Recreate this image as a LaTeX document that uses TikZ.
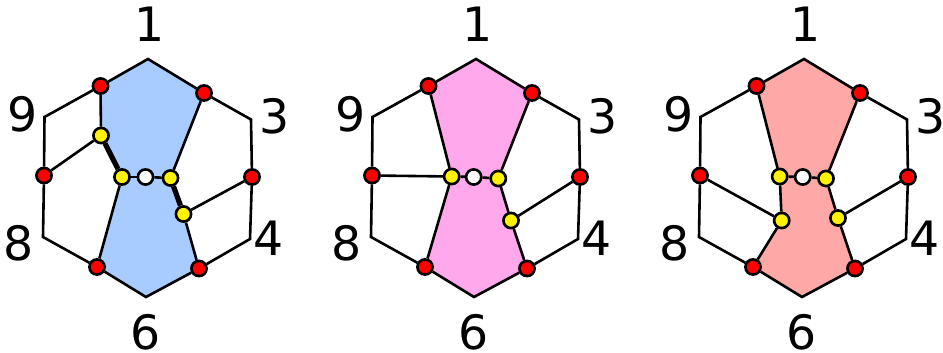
\documentclass[tikz,border=0pt]{standalone}
\usepackage{fontspec}
\setmainfont{DejaVu Sans}
\usetikzlibrary{backgrounds}
\definecolor{paletteBlue}{HTML}{A8CCFF}
\definecolor{palettePink}{HTML}{FFA8EC}
\definecolor{paletteSalmon}{HTML}{FFA8A8}

\begin{document}
\begin{tikzpicture}[
  x=0.75pt, y=-0.75pt,
  edge/.style={draw=black, line width=1.95pt},
  heavy/.style={draw=black, line width=3.9pt},
  dot/.style={circle, draw=black, line width=1.95pt, inner sep=0pt, minimum size=11.4pt},
  reddot/.style={dot, fill=red},
  yellowdot/.style={dot, fill=yellow},
  whitedot/.style={dot, fill=white},
  number/.style={font=\fontsize{35.5}{40}\selectfont, inner sep=0pt}
]
\useasboundingbox (0,0) rectangle (943,353);

\node[number] (oneA) at (149.5,24.5) {1};
\node[number] (nineA) at (22.5,114) {9};
\node[number] (threeA) at (274.5,116) {3};
\node[number] (eightA) at (19,243) {8};
\node[number] (fourA) at (269,238) {4};
\node[number] (sixA) at (146,332) {6};
\coordinate (topA) at (148,59);
\coordinate (neA) at (251,119.5);
\coordinate (seA) at (250,239);
\coordinate (botA) at (146,297);
\coordinate (swA) at (43,237);
\coordinate (nwA) at (44.5,117);
\node[reddot] (ulA) at (100.5,86) {};
\node[reddot] (urA) at (204,93) {};
\node[reddot] (leftA) at (44,175.5) {};
\node[reddot] (rightA) at (252,177) {};
\node[reddot] (blA) at (97,267) {};
\node[reddot] (brA) at (199,268.5) {};
\node[yellowdot] (y1A) at (101,135.5) {};
\node[yellowdot] (y2A) at (122,177) {};
\node[yellowdot] (y3A) at (170.5,178) {};
\node[yellowdot] (y4A) at (183.5,214) {};
\node[whitedot] (midA) at (145.5,177) {};
\begin{scope}[on background layer]
\fill[paletteBlue] (topA) -- (urA.center) -- (y3A.center) -- (y4A.center) -- (brA.center) -- (botA) -- (blA.center) -- (y2A.center) -- (y1A.center) -- (ulA.center) -- cycle;
\end{scope}
\draw[edge] (ulA) -- (topA) -- (urA) -- (neA) -- (rightA) -- (seA) -- (brA) -- (botA) -- (blA) -- (swA) -- (leftA) -- (nwA) -- (ulA);
\draw[edge] (ulA) -- (y1A);
\draw[edge] (y1A) -- (leftA);
\draw[edge] (y2A) -- (blA);
\draw[edge] (y2A) -- (midA);
\draw[edge] (midA) -- (y3A);
\draw[edge] (y3A) -- (urA);
\draw[edge] (y4A) -- (brA);
\draw[edge] (y4A) -- (rightA);
\draw[heavy] (y1A) -- (y2A);
\draw[heavy] (y3A) -- (y4A);

\node[number] (oneB) at (477.5,24.5) {1};
\node[number] (nineB) at (350.5,114) {9};
\node[number] (threeB) at (602.5,116) {3};
\node[number] (eightB) at (347,243) {8};
\node[number] (fourB) at (597,238) {4};
\node[number] (sixB) at (474,332) {6};
\coordinate (topB) at (476,59);
\coordinate (neB) at (579,119.5);
\coordinate (seB) at (578,239);
\coordinate (botB) at (474,297);
\coordinate (swB) at (371,237);
\coordinate (nwB) at (372.5,117);
\node[reddot] (ulB) at (428.5,86) {};
\node[reddot] (urB) at (532,93) {};
\node[reddot] (leftB) at (372,175.5) {};
\node[reddot] (rightB) at (580,177) {};
\node[reddot] (blB) at (425,267) {};
\node[reddot] (brB) at (527,268.5) {};
\node[yellowdot] (y2B) at (451.7,176.5) {};
\node[yellowdot] (y3B) at (498.3,178.5) {};
\node[yellowdot] (y4B) at (511,220.5) {};
\node[whitedot] (midB) at (473.7,177) {};
\begin{scope}[on background layer]
\fill[palettePink] (topB) -- (urB.center) -- (y3B.center) -- (y4B.center) -- (brB.center) -- (botB) -- (blB.center) -- (y2B.center) -- (ulB.center) -- cycle;
\end{scope}
\draw[edge] (ulB) -- (topB) -- (urB) -- (neB) -- (rightB) -- (seB) -- (brB) -- (botB) -- (blB) -- (swB) -- (leftB) -- (nwB) -- (ulB);
\draw[edge] (ulB) -- (y2B);
\draw[edge] (leftB) -- (y2B);
\draw[edge] (y2B) -- (blB);
\draw[edge] (y2B) -- (midB);
\draw[edge] (midB) -- (y3B);
\draw[edge] (y3B) -- (urB);
\draw[edge] (y3B) -- (y4B);
\draw[edge] (y4B) -- (brB);
\draw[edge] (y4B) -- (rightB);

\node[number] (oneC) at (805.5,24.5) {1};
\node[number] (nineC) at (678.5,114) {9};
\node[number] (threeC) at (930.5,116) {3};
\node[number] (eightC) at (675,243) {8};
\node[number] (fourC) at (925,238) {4};
\node[number] (sixC) at (802,332) {6};
\coordinate (topC) at (804,59);
\coordinate (neC) at (907,119.5);
\coordinate (seC) at (906,239);
\coordinate (botC) at (802,297);
\coordinate (swC) at (699,237);
\coordinate (nwC) at (700.5,117);
\node[reddot] (ulC) at (756.5,86) {};
\node[reddot] (urC) at (860,93) {};
\node[reddot] (leftC) at (700,175.5) {};
\node[reddot] (rightC) at (908,177) {};
\node[reddot] (blC) at (753,267) {};
\node[reddot] (brC) at (855,268.5) {};
\node[yellowdot] (y1C) at (781.7,220.5) {};
\node[yellowdot] (y2C) at (779.7,176.5) {};
\node[yellowdot] (y3C) at (826,178.5) {};
\node[yellowdot] (y4C) at (838,218) {};
\node[whitedot] (midC) at (802.7,177) {};
\begin{scope}[on background layer]
\fill[paletteSalmon] (topC) -- (urC.center) -- (y3C.center) -- (y4C.center) -- (brC.center) -- (botC) -- (blC.center) -- (y1C.center) -- (y2C.center) -- (ulC.center) -- cycle;
\end{scope}
\draw[edge] (ulC) -- (topC) -- (urC) -- (neC) -- (rightC) -- (seC) -- (brC) -- (botC) -- (blC) -- (swC) -- (leftC) -- (nwC) -- (ulC);
\draw[edge] (ulC) -- (y2C);
\draw[edge] (y2C) -- (y1C);
\draw[edge] (y1C) -- (blC);
\draw[edge] (y1C) -- (leftC);
\draw[edge] (y2C) -- (midC);
\draw[edge] (midC) -- (y3C);
\draw[edge] (y3C) -- (urC);
\draw[edge] (y3C) -- (y4C);
\draw[edge] (y4C) -- (brC);
\draw[edge] (y4C) -- (rightC);
\end{tikzpicture}
\end{document}
